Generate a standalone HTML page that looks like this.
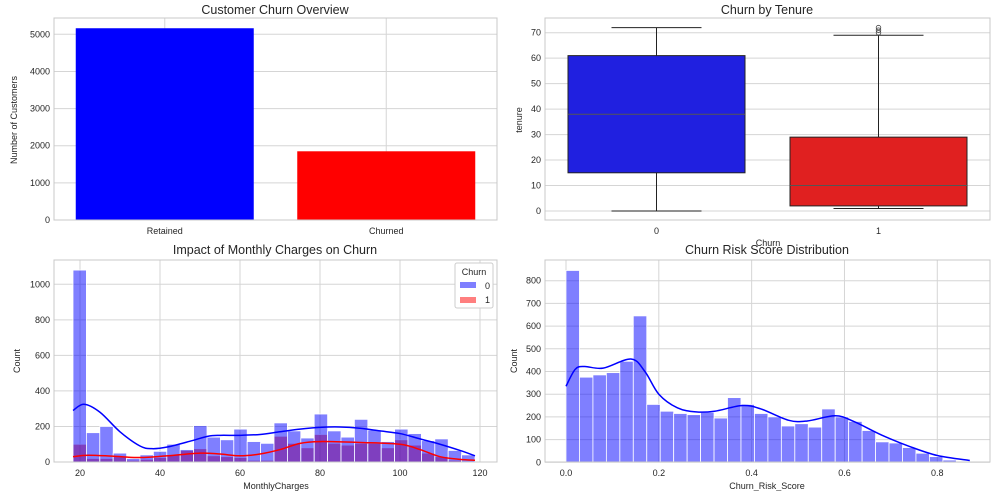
<!DOCTYPE html>
<html><head><meta charset="utf-8"><style>
body{margin:0;background:#fff;font-family:"Liberation Sans",Arial,sans-serif}
svg text{font-family:"Liberation Sans",Arial,sans-serif;fill:#262626}
</style></head><body>
<svg id="s" width="1000" height="491" viewBox="0 0 1000 491" xmlns="http://www.w3.org/2000/svg"></svg>
<script>
// ---- data ----
const barCats = ["Retained","Churned"];
const barVals = [5163, 1850];
const barTicks = [0,1000,2000,3000,4000,5000];

const boxCats = ["0","1"];
const boxStats0 = [0, 15, 38, 61, 72]; // min q1 med q3 max
const boxStats1 = [1, 2, 10, 29, 69];
const boxOutliers1 = [70, 71, 72];
const boxTicks = [0,10,20,30,40,50,60,70];

const mcStart = 18.25, mcWidth = 3.35;
const mcCount0 = [1080,165,200,50,20,40,60,100,70,205,140,125,185,115,105,220,175,135,270,175,140,240,180,115,185,160,120,130,65,40];
const mcCount1 = [100,20,20,30,10,15,25,40,65,75,35,30,25,10,10,145,105,80,155,105,95,105,105,80,125,95,50,30,10,5];
const mcKdeX0 = [18.25,21,25,30,35,38,42,48,52,55,60,65,70,75,80,85,90,95,100,105,110,115,118.75];
const mcKdeY0 = [290,325,280,170,90,75,85,120,145,150,150,155,170,185,195,197,190,175,160,130,100,65,35];
const mcKdeX1 = [18.25,22,28,35,42,50,55,60,65,70,75,80,90,100,105,110,115,118.75];
const mcKdeY1 = [30,38,33,25,35,50,45,35,45,70,105,115,110,100,70,30,15,10];
const mcXTicks = [20,40,60,80,100,120];
const mcYTicks = [0,200,400,600,800,1000];

const rsStart = 0, rsWidth = 0.029;
const rsCounts = [845,375,385,395,445,645,255,225,215,210,220,195,285,255,215,200,160,170,155,235,200,180,140,90,85,65,40,25,10,4];
const rsKdeX = [0,0.02,0.04,0.08,0.14,0.17,0.2,0.24,0.28,0.32,0.38,0.42,0.48,0.52,0.58,0.62,0.68,0.74,0.8,0.87];
const rsKdeY = [335,410,422,415,455,400,300,240,222,225,250,235,185,182,205,180,120,70,30,8];
const rsXTicks = [0,0.2,0.4,0.6,0.8];
const rsYTicks = [0,100,200,300,400,500,600,700,800];

// ---- helpers ----
const S = document.getElementById('s');
const NS = "http://www.w3.org/2000/svg";
function mk(tag, attrs, parent){const e=document.createElementNS(NS,tag);for(const k in attrs)e.setAttribute(k,attrs[k]);(parent||S).appendChild(e);return e;}
function txt(x,y,str,size,anchor,parent,rot){const t=mk('text',{x:x,y:y,'font-size':size,'text-anchor':anchor||'middle'},parent);if(rot)t.setAttribute('transform',`rotate(-90 ${x} ${y})`);t.textContent=str;return t;}
function lin(d0,d1,r0,r1){return v=>r0+(v-d0)/(d1-d0)*(r1-r0);}
function frame(g,x0,y0,x1,y1){const r=mk('rect',{x:x0,y:y0,width:x1-x0,height:y1-y0,fill:'none',stroke:'#c8c8c8','stroke-width':1},g);}
function smooth(xs,ys,fx,fy){let p=xs.map((x,i)=>[fx(x),fy(ys[i])]);let d=`M${p[0][0]},${p[0][1]}`;for(let i=0;i<p.length-1;i++){const p0=p[i-1]||p[i],p1=p[i],p2=p[i+1],p3=p[i+2]||p2;d+=` C${p1[0]+(p2[0]-p0[0])/6},${p1[1]+(p2[1]-p0[1])/6} ${p2[0]-(p3[0]-p1[0])/6},${p2[1]-(p3[1]-p1[1])/6} ${p2[0]},${p2[1]}`;}return d;}

// ---- chart 1: bar ----
(function(){
 const g=mk('g',{});
 const x0=54,x1=497,y0=18,y1=220;const fy=lin(0,5000,220,34.3);
 barTicks.forEach(v=>{mk('line',{x1:x0,x2:x1,y1:fy(v),y2:fy(v),stroke:'#d5d5d5'},g);const t=txt(x0-4,fy(v)+3,String(v),9,'end',g);});
 const bw=(x1-x0)/2;
 barCats.forEach((c,i)=>{const cx=x0+bw*(i+0.5);mk('line',{x1:cx,x2:cx,y1:y0,y2:y1,stroke:'#d5d5d5'},g);});
 barCats.forEach((c,i)=>{const cx=x0+bw*(i+0.5);const r=mk('rect',{x:cx-89,y:fy(barVals[i]),width:178,height:220-fy(barVals[i]),fill:i?'#ff0000':'#0000ff'},g);const t=txt(cx,234,c,9,'middle',g);});
 frame(g,x0,y0,x1,y1);
 const t=txt(275,14,'Customer Churn Overview',12.5,'middle',g);
 const yl=txt(17,120,'Number of Customers',9,'middle',g,true);
})();

// ---- chart 2: box ----
(function(){
 const g=mk('g',{});
 const x0=545,x1=990,y0=18,y1=220;const fy=lin(0,70,211,32.7);
 boxTicks.forEach(v=>{mk('line',{x1:x0,x2:x1,y1:fy(v),y2:fy(v),stroke:'#d5d5d5'},g);const t=txt(x0-4,fy(v)+3,String(v),9,'end',g);});
 const centers=[656.5,878.5];
 [boxStats0,boxStats1].forEach((s,i)=>{const cx=centers[i];const col=i?'#e02020':'#2020e0';
  const bg=mk('g',{},g);
  mk('line',{x1:cx,x2:cx,y1:fy(s[0]),y2:fy(s[1]),stroke:'#222','stroke-width':1},bg);
  mk('line',{x1:cx,x2:cx,y1:fy(s[3]),y2:fy(s[4]),stroke:'#222','stroke-width':1},bg);
  mk('line',{x1:cx-45,x2:cx+45,y1:fy(s[0]),y2:fy(s[0]),stroke:'#222'},bg);
  mk('line',{x1:cx-45,x2:cx+45,y1:fy(s[4]),y2:fy(s[4]),stroke:'#222'},bg);
  mk('rect',{x:cx-88.5,y:fy(s[3]),width:177,height:fy(s[1])-fy(s[3]),fill:col,stroke:'#222','stroke-width':1},bg);
  mk('line',{x1:cx-88.5,x2:cx+88.5,y1:fy(s[2]),y2:fy(s[2]),stroke:'#555','stroke-width':1},bg);
  const t=txt(cx,234,boxCats[i],9,'middle',g);
 });
 boxOutliers1.forEach(v=>{const c=mk('circle',{cx:centers[1],cy:fy(v),r:2.3,fill:'none',stroke:'#444','stroke-width':0.8},g);});
 frame(g,x0,y0,x1,y1);
 const t=txt(767,14,'Churn by Tenure',12.5,'middle',g);
 const yl=txt(522,120,'tenure',9,'middle',g,true);
 const xl=txt(768,246,'Churn',9,'middle',g);
})();

// ---- chart 3: monthly charges hist ----
(function(){
 const g=mk('g',{});
 const x0=54,x1=497,y0=260,y1=462;const fx=lin(20,120,80,480),fy=lin(0,1000,462,284.3);
 mcYTicks.forEach(v=>{mk('line',{x1:x0,x2:x1,y1:fy(v),y2:fy(v),stroke:'#d5d5d5'},g);const t=txt(x0-4,fy(v)+3,String(v),9,'end',g);});
 mcXTicks.forEach(v=>{mk('line',{x1:fx(v),x2:fx(v),y1:y0,y2:y1,stroke:'#d5d5d5'},g);const t=txt(fx(v),476,String(v),9,'middle',g);});
 [[mcCount1,'#ff0000','bar-churn1'],[mcCount0,'#0000ff','bar-churn0']].forEach(([arr,col,nm])=>{
  arr.forEach((v,i)=>{const a=fx(mcStart+i*mcWidth),b=fx(mcStart+(i+1)*mcWidth);const r=mk('rect',{x:a,y:fy(v),width:b-a,height:462-fy(v),fill:col,'fill-opacity':0.5,stroke:'#fff','stroke-width':0.8},g);});
 });
 const k0=mk('path',{d:smooth(mcKdeX0,mcKdeY0,fx,fy),fill:'none',stroke:'#0000ff','stroke-width':1.5},g);
 const k1=mk('path',{d:smooth(mcKdeX1,mcKdeY1,fx,fy),fill:'none',stroke:'#ff0000','stroke-width':1.5},g);
 frame(g,x0,y0,x1,y1);
 const lg=mk('g',{},g);
 mk('rect',{x:455,y:263,width:38,height:45,fill:'#fff',stroke:'#ccc',rx:2},lg);
 txt(474,275,'Churn',9,'middle',lg);
 const e0=mk('rect',{x:460,y:282,width:16,height:6,fill:'#0000ff','fill-opacity':0.5},lg);
 txt(485,289,'0',9,'start',lg);
 const e1=mk('rect',{x:460,y:297,width:16,height:6,fill:'#ff0000','fill-opacity':0.5},lg);
 txt(485,303,'1',9,'start',lg);
 const t=txt(275,254,'Impact of Monthly Charges on Churn',12.5,'middle',g);
 const yl=txt(20,361,'Count',9,'middle',g,true);
 const xl=txt(276,489,'MonthlyCharges',9,'middle',g);
})();

// ---- chart 4: risk score hist ----
(function(){
 const g=mk('g',{});
 const x0=545,x1=990,y0=260,y1=462;const fx=lin(0,0.8,566,937.3),fy=lin(0,800,462.3,280.7);
 rsYTicks.forEach(v=>{mk('line',{x1:x0,x2:x1,y1:fy(v),y2:fy(v),stroke:'#d5d5d5'},g);const t=txt(x0-4,fy(v)+3,String(v),9,'end',g);});
 rsXTicks.forEach(v=>{mk('line',{x1:fx(v),x2:fx(v),y1:y0,y2:y1,stroke:'#d5d5d5'},g);const t=txt(fx(v),476,v.toFixed(1),9,'middle',g);});
 rsCounts.forEach((v,i)=>{const a=fx(rsStart+i*rsWidth),b=fx(rsStart+(i+1)*rsWidth);const r=mk('rect',{x:a,y:fy(v),width:b-a,height:fy(0)-fy(v),fill:'#0000ff','fill-opacity':0.5,stroke:'#fff','stroke-width':0.8},g);});
 const k=mk('path',{d:smooth(rsKdeX,rsKdeY,fx,fy),fill:'none',stroke:'#0000ff','stroke-width':1.5},g);
 frame(g,x0,y0,x1,y1);
 const t=txt(767,254,'Churn Risk Score Distribution',12.5,'middle',g);
 const yl=txt(517,361,'Count',9,'middle',g,true);
 const xl=txt(767,489,'Churn_Risk_Score',9,'middle',g);
})();
</script>
</body></html>
